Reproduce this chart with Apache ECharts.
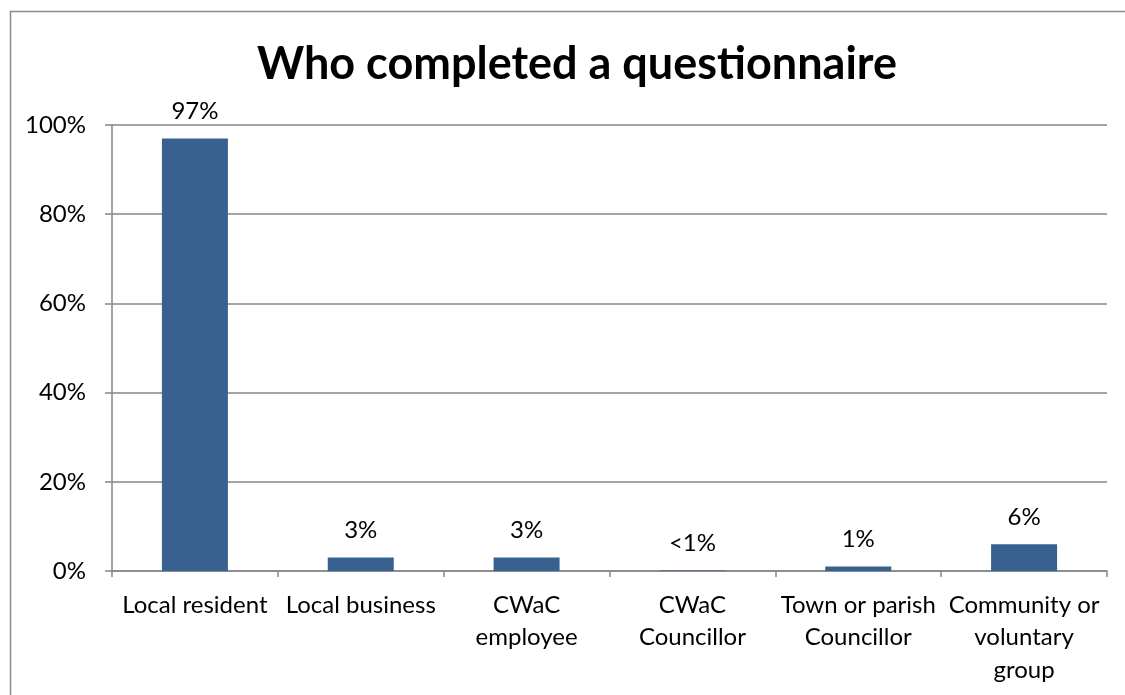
<!DOCTYPE html>
<html>
<head>
<meta charset="utf-8">
<script src="https://cdn.jsdelivr.net/npm/echarts@6/dist/echarts.min.js"></script>
<style>
  html, body { margin: 0; padding: 0; background: #fff; }
  #chart { width: 1125px; height: 695px; }
</style>
</head>
<body>
<div id="chart"></div>
<script>
// Respondent types (line breaks as shown under the axis)
const categories = [
  'Local resident',
  'Local business',
  'CWaC\nemployee',
  'CWaC\nCouncillor',
  'Town or parish\nCouncillor',
  'Community or\nvoluntary\ngroup'
];
// Share of questionnaires completed by each type (%)
const shares = [97, 3, 3, 0.1, 1, 6];
// Printed value labels above each bar
const shareLabels = ['97%', '3%', '3%', '<1%', '1%', '6%'];
// Y axis ticks
const yTicks = [0, 20, 40, 60, 80, 100];

const FONT = 'Lato, "Open Sans", sans-serif';
const chart = echarts.init(document.getElementById('chart'), null, { renderer: 'canvas' });

chart.setOption({
  backgroundColor: '#ffffff',
  animation: false,
  textStyle: { fontFamily: FONT },
  graphic: [{
    type: 'rect',
    shape: { x: 10.5, y: 11.5, width: 1300, height: 900 },
    style: { fill: 'none', stroke: '#8c8c8c', lineWidth: 1.5 },
    silent: true
  }],
  title: {
    text: 'Who completed a questionnaire',
    left: 572,
    top: 37,
    textAlign: 'center',
    textStyle: { fontFamily: FONT, fontWeight: 'bold', fontSize: 45, color: '#000' }
  },
  grid: { left: 112, right: 18, top: 125, bottom: 124 },
  xAxis: {
    type: 'category',
    data: categories,
    axisLine: { lineStyle: { color: '#868686', width: 1.5 } },
    axisTick: { show: true, length: 6, lineStyle: { color: '#868686', width: 1.5 } },
    axisLabel: { interval: 0, color: '#000', fontSize: 24, lineHeight: 32.5, margin: 18, fontFamily: FONT }
  },
  yAxis: {
    type: 'value',
    min: yTicks[0],
    max: yTicks[yTicks.length - 1],
    interval: 20,
    axisLine: { show: true, lineStyle: { color: '#868686', width: 1.5 } },
    axisTick: { show: true, length: 7, lineStyle: { color: '#868686', width: 1.5 } },
    splitLine: { show: true, lineStyle: { color: '#868686', width: 1.5 } },
    axisLabel: { color: '#000', fontSize: 24, margin: 26, fontFamily: FONT, formatter: v => v + '%' }
  },
  series: [{
    type: 'bar',
    data: shares,
    barWidth: 66,
    itemStyle: { color: '#38618f' },
    label: {
      show: true,
      position: 'top',
      distance: 15,
      color: '#000',
      fontSize: 24,
      fontFamily: FONT,
      formatter: p => shareLabels[p.dataIndex]
    }
  }]
});
</script>
</body>
</html>
